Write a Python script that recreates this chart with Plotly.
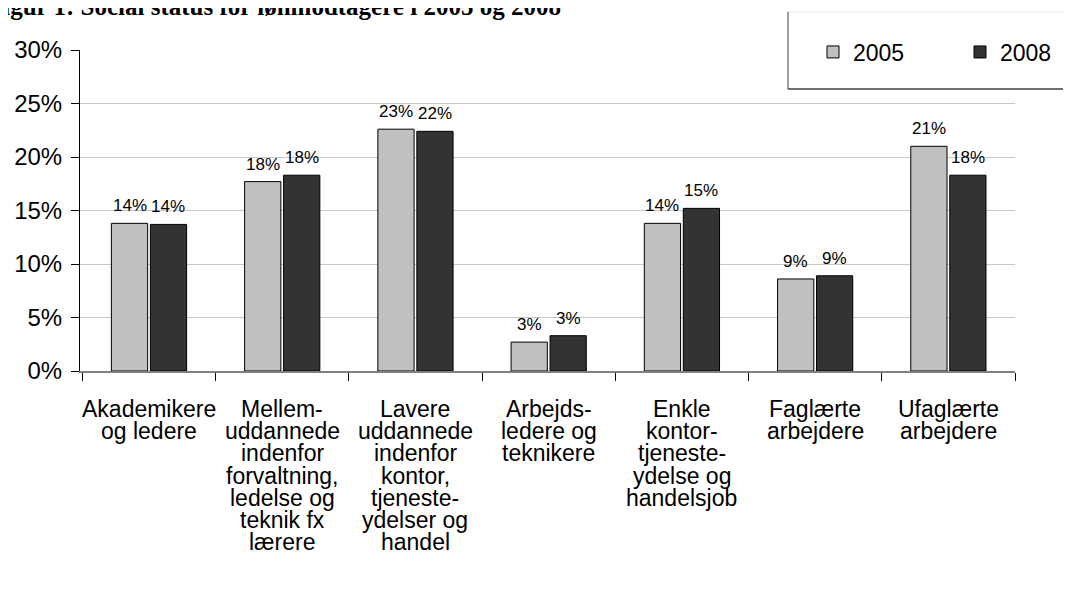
import plotly.graph_objects as go

# ---- data ----
categories = [
    "Akademikere<br>og ledere",
    "Mellem-<br>uddannede<br>indenfor<br>forvaltning,<br>ledelse og<br>teknik fx<br>lærere",
    "Lavere<br>uddannede<br>indenfor<br>kontor,<br>tjeneste-<br>ydelser og<br>handel",
    "Arbejds-<br>ledere og<br>teknikere",
    "Enkle<br>kontor-<br>tjeneste-<br>ydelse og<br>handelsjob",
    "Faglærte<br>arbejdere",
    "Ufaglærte<br>arbejdere",
]
series_names = ["2005", "2008"]
values_2005 = [13.8, 17.7, 22.6, 2.7, 13.8, 8.6, 21.0]
values_2008 = [13.7, 18.3, 22.4, 3.3, 15.2, 8.9, 18.3]
y_ticks = [0, 5, 10, 15, 20, 25, 30]
y_tick_labels = [f"{v}%" for v in y_ticks]
title_text = "Figur 1: Social status for lønmodtagere i 2005 og 2008"

FONT = "Liberation Sans, Arial, sans-serif"
OFF = 8                      # browser body margin
W, H = 1071 - OFF, 599 - OFF
X0, X1, Y0, Y1 = 80, 1015, 50, 370.7   # plot area in page pixels
L, R = X0 - OFF, W - (X1 - OFF)
T, B = Y0 - OFF, H - (Y1 - OFF)
pw, ph = X1 - X0, Y1 - Y0

def px_x(x):
    return (x - X0) / pw

def px_y(y):
    return (Y1 - y) / ph

BARGAP, GROUPGAP = 0.415, 0.07
colors = ["#c0c0c0", "#333333"]
series = [values_2005, values_2008]

fig = go.Figure()
annotations = []
for k, (name, vals, col) in enumerate(zip(series_names, series, colors)):
    fig.add_trace(go.Bar(
        x=categories, y=vals, name=name,
        marker=dict(color=col, line=dict(color="#000000", width=1)),
        hoverinfo="skip",
    ))
    off = (k - 0.5) * (1 - BARGAP) / 2
    for i, v in enumerate(vals):
        annotations.append(dict(
            x=i + off, xref="x", y=v, yref="y", yanchor="bottom", xanchor="center",
            yshift=6, text=f"{v:.0f}%", showarrow=False,
            font=dict(family=FONT, size=17, color="#000000"),
        ))

# category labels, line by line (tight line spacing as in the original)
for cat in categories:
    for j, line in enumerate(cat.split("<br>")):
        annotations.append(dict(
            x=cat, xref="x", y=0, yref="paper", yanchor="top", xanchor="center",
            yshift=-23 - j * 22.2, text=line, showarrow=False,
            font=dict(family=FONT, size=23, color="#000000"),
        ))

annotations.append(dict(
    x=px_x(-14), xref="paper", xanchor="left",
    y=px_y(22), yref="paper", yanchor="bottom",
    text="<b>" + title_text + "</b>", showarrow=False,
    font=dict(family="Liberation Serif, Times New Roman, serif", size=25, color="#000000"),
))

shapes = [
    dict(type="rect", xref="paper", yref="paper", x0=px_x(788), x1=px_x(1090),
         y0=px_y(89), y1=px_y(12), fillcolor="#ffffff", line=dict(width=0), layer="above"),
    dict(type="line", xref="paper", yref="paper", x0=px_x(788), x1=px_x(1090),
         y0=px_y(12), y1=px_y(12), line=dict(color="#e6e6e6", width=1), layer="above"),
    dict(type="line", xref="paper", yref="paper", x0=px_x(788), x1=px_x(788),
         y0=px_y(12), y1=px_y(89), line=dict(color="#404040", width=1), layer="above"),
    dict(type="line", xref="paper", yref="paper", x0=px_x(788), x1=px_x(1090),
         y0=px_y(89), y1=px_y(89), line=dict(color="#404040", width=1.5), layer="above"),
]

fig.update_layout(
    width=W, height=H,
    margin=dict(l=L, r=R, t=T, b=B, autoexpand=False),
    paper_bgcolor="#ffffff", plot_bgcolor="#ffffff",
    barmode="group", bargap=BARGAP, bargroupgap=GROUPGAP,
    font=dict(family=FONT, color="#000000"),
    showlegend=True,
    legend=dict(orientation="h", x=px_x(813), xanchor="left", y=px_y(52), yanchor="middle",
                font=dict(family=FONT, size=23, color="#000000"),
                entrywidth=102, bgcolor="rgba(0,0,0,0)", borderwidth=0,
                itemclick=False, itemdoubleclick=False),
    annotations=annotations,
    shapes=shapes,
    xaxis=dict(showticklabels=False, ticks="outside", tickson="boundaries", ticklen=8,
               tickcolor="#000000", showline=True, linecolor="#808080", linewidth=1.5,
               showgrid=False, zeroline=False, fixedrange=True),
    yaxis=dict(range=[0, 30], tickmode="array", tickvals=y_ticks, ticktext=y_tick_labels,
               ticks="outside", ticklen=8,
               tickcolor="#000000", showline=True, linecolor="#000000", linewidth=1,
               showgrid=True, gridcolor="#c8c8c8", gridwidth=1, zeroline=False,
               tickfont=dict(family=FONT, size=24, color="#000000"),
               ticklabelstandoff=4, fixedrange=True),
)

fig.write_html("out.html")
